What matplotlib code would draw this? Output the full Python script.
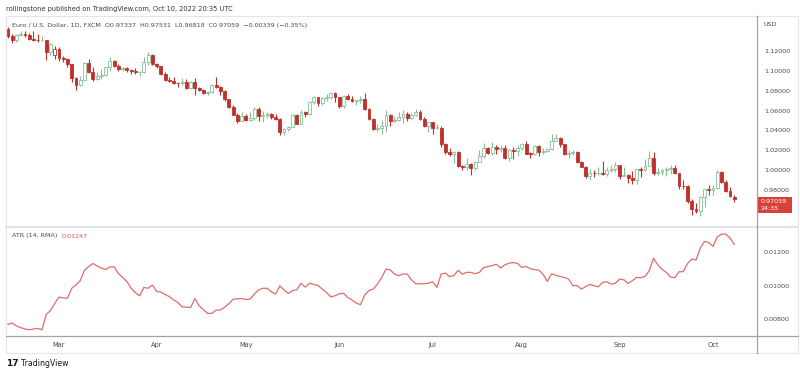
import matplotlib.pyplot as plt
import numpy as np
import pandas as pd
from matplotlib.lines import Line2D
from matplotlib.patches import Rectangle

# daily bars, EUR/USD (FXCM), Feb 11 -> Oct 10 2022
dates = pd.bdate_range("2022-02-11", "2022-10-10")

opens = [
    1.1424, 1.1349, 1.1307, 1.1359, 1.1371, 1.1361, 1.1322, 1.1309, 1.1307, 1.1308,
    1.1192, 1.1160, 1.1220, 1.1126, 1.1118, 1.1064, 1.0929, 1.0855, 1.0905, 1.1077,
    1.0988, 1.0913, 1.0942, 1.0956, 1.1034, 1.1094, 1.1050, 1.1016, 1.1031, 1.1005,
    1.0997, 1.0983, 1.0985, 1.1089, 1.1160, 1.1067, 1.1046, 1.0970, 1.0903, 1.0901,
    1.0879, 1.0876, 1.0886, 1.0829, 1.0890, 1.0825, 1.0810, 1.0780, 1.0788, 1.0852,
    1.0836, 1.0796, 1.0715, 1.0640, 1.0558, 1.0498, 1.0545, 1.0508, 1.0522, 1.0620,
    1.0540, 1.0550, 1.0560, 1.0530, 1.0515, 1.0380, 1.0410, 1.0436, 1.0551, 1.0465,
    1.0585, 1.0562, 1.0688, 1.0733, 1.0678, 1.0725, 1.0732, 1.0779, 1.0733, 1.0648,
    1.0749, 1.0719, 1.0695, 1.0703, 1.0716, 1.0615, 1.0519, 1.0411, 1.0420, 1.0446,
    1.0550, 1.0497, 1.0509, 1.0535, 1.0568, 1.0520, 1.0555, 1.0583, 1.0518, 1.0443,
    1.0484, 1.0426, 1.0426, 1.0265, 1.0182, 1.0161, 1.0185, 1.0039, 1.0037, 1.0062,
    1.0019, 1.0083, 1.0142, 1.0227, 1.0177, 1.0230, 1.0212, 1.0223, 1.0121, 1.0199,
    1.0195, 1.0225, 1.0260, 1.0166, 1.0165, 1.0245, 1.0181, 1.0196, 1.0212, 1.0298,
    1.0320, 1.0260, 1.0160, 1.0171, 1.0178, 1.0086, 1.0037, 0.9942, 0.9968, 0.9967,
    0.9974, 0.9965, 1.0002, 1.0016, 1.0054, 0.9946, 0.9955, 0.9926, 0.9904, 1.0012,
    1.0003, 1.0043, 1.0120, 0.9968, 0.9980, 0.9999, 1.0014, 1.0025, 0.9970, 0.9838,
    0.9837, 0.9690, 0.9608, 0.9592, 0.9735, 0.9815, 0.9801, 0.9825, 0.9986, 0.9884,
    0.9794, 0.97337,
]
highs = [
    1.1440, 1.1370, 1.1368, 1.1395, 1.1395, 1.1378, 1.1395, 1.1365, 1.1345, 1.1310,
    1.1275, 1.1245, 1.1235, 1.1150, 1.1125, 1.1070, 1.0935, 1.0950, 1.1090, 1.1120,
    1.1040, 1.0990, 1.1015, 1.1040, 1.1135, 1.1110, 1.1070, 1.1040, 1.1040, 1.1015,
    1.1030, 1.0995, 1.1137, 1.1185, 1.1170, 1.1075, 1.1050, 1.0990, 1.0940, 1.0935,
    1.0890, 1.0930, 1.0915, 1.0900, 1.0925, 1.0840, 1.0820, 1.0800, 1.0866, 1.0936,
    1.0850, 1.0810, 1.0720, 1.0660, 1.0570, 1.0590, 1.0560, 1.0580, 1.0640, 1.0640,
    1.0595, 1.0590, 1.0575, 1.0560, 1.0520, 1.0420, 1.0445, 1.0560, 1.0565, 1.0605,
    1.0595, 1.0695, 1.0748, 1.0740, 1.0735, 1.0765, 1.0785, 1.0788, 1.0740, 1.0755,
    1.0765, 1.0750, 1.0710, 1.0750, 1.0775, 1.0630, 1.0525, 1.0465, 1.0505, 1.0601,
    1.0560, 1.0545, 1.0580, 1.0605, 1.0580, 1.0570, 1.0615, 1.0605, 1.0530, 1.0485,
    1.0485, 1.0465, 1.0440, 1.0275, 1.0220, 1.0190, 1.0195, 1.0055, 1.0120, 1.0070,
    1.0090, 1.0200, 1.0270, 1.0230, 1.0280, 1.0255, 1.0258, 1.0250, 1.0210, 1.0235,
    1.0255, 1.0275, 1.0295, 1.0185, 1.0255, 1.0250, 1.0225, 1.0220, 1.0368, 1.0365,
    1.0330, 1.0265, 1.0200, 1.0200, 1.0190, 1.0095, 1.0040, 1.0015, 0.9998, 1.0030,
    1.0090, 1.0030, 1.0055, 1.0080, 1.0055, 1.0030, 0.9960, 0.9990, 1.0010, 1.0030,
    1.0110, 1.0198, 1.0185, 1.0020, 1.0015, 1.0035, 1.0050, 1.0050, 0.9975, 0.9905,
    0.9850, 0.9710, 0.9670, 0.9740, 0.9815, 0.9855, 0.9850, 0.9999, 0.9990, 0.9900,
    0.9835, 0.97531,
]
lows = [
    1.1330, 1.1280, 1.1290, 1.1345, 1.1340, 1.1310, 1.1300, 1.1288, 1.1300, 1.1106,
    1.1160, 1.1120, 1.1100, 1.1090, 1.1040, 1.0890, 1.0806, 1.0850, 1.0900, 1.0975,
    1.0900, 1.0910, 1.0920, 1.0950, 1.1000, 1.1040, 1.0995, 1.0995, 1.0985, 1.0965,
    1.0970, 1.0945, 1.0980, 1.1060, 1.1055, 1.1030, 1.0960, 1.0900, 1.0890, 1.0865,
    1.0835, 1.0860, 1.0820, 1.0815, 1.0758, 1.0800, 1.0770, 1.0760, 1.0780, 1.0830,
    1.0760, 1.0697, 1.0630, 1.0550, 1.0470, 1.0490, 1.0490, 1.0490, 1.0505, 1.0490,
    1.0485, 1.0520, 1.0510, 1.0500, 1.0350, 1.0350, 1.0390, 1.0430, 1.0460, 1.0460,
    1.0530, 1.0555, 1.0670, 1.0650, 1.0660, 1.0700, 1.0720, 1.0685, 1.0630, 1.0630,
    1.0710, 1.0685, 1.0655, 1.0675, 1.0610, 1.0505, 1.0400, 1.0398, 1.0360, 1.0380,
    1.0445, 1.0480, 1.0490, 1.0470, 1.0490, 1.0510, 1.0545, 1.0505, 1.0435, 1.0380,
    1.0365, 1.0410, 1.0235, 1.0160, 1.0145, 1.0070, 1.0030, 0.9999, 0.9998, 0.9952,
    1.0005, 1.0080, 1.0125, 1.0160, 1.0155, 1.0160, 1.0180, 1.0110, 1.0095, 1.0115,
    1.0145, 1.0200, 1.0160, 1.0125, 1.0150, 1.0140, 1.0160, 1.0180, 1.0200, 1.0290,
    1.0235, 1.0150, 1.0125, 1.0150, 1.0075, 1.0030, 0.9925, 0.9900, 0.9928, 0.9950,
    0.9950, 0.9940, 0.9985, 0.9985, 0.9910, 0.9940, 0.9875, 0.9865, 0.9865, 0.9930,
    0.9990, 1.0040, 0.9955, 0.9955, 0.9955, 0.9945, 0.9965, 0.9960, 0.9810, 0.9810,
    0.9670, 0.9550, 0.9570, 0.9536, 0.9635, 0.9750, 0.9755, 0.9810, 0.9875, 0.9780,
    0.9735, 0.96818,
]
closes = [
    1.1349, 1.1307, 1.1359, 1.1371, 1.1361, 1.1322, 1.1309, 1.1307, 1.1308, 1.1192,
    1.1269, 1.1220, 1.1126, 1.1118, 1.1064, 1.0929, 1.0855, 1.0905, 1.1077, 1.0988,
    1.0913, 1.0942, 1.0956, 1.1034, 1.1094, 1.1050, 1.1016, 1.1031, 1.1005, 1.0997,
    1.0983, 1.0985, 1.1089, 1.1160, 1.1067, 1.1046, 1.0970, 1.0903, 1.0901, 1.0879,
    1.0876, 1.0886, 1.0829, 1.0890, 1.0825, 1.0810, 1.0780, 1.0788, 1.0852, 1.0836,
    1.0796, 1.0715, 1.0640, 1.0558, 1.0498, 1.0545, 1.0508, 1.0522, 1.0620, 1.0540,
    1.0550, 1.0560, 1.0530, 1.0515, 1.0380, 1.0410, 1.0436, 1.0551, 1.0465, 1.0585,
    1.0562, 1.0688, 1.0733, 1.0678, 1.0725, 1.0732, 1.0779, 1.0733, 1.0648, 1.0749,
    1.0719, 1.0695, 1.0703, 1.0716, 1.0615, 1.0519, 1.0411, 1.0420, 1.0446, 1.0550,
    1.0497, 1.0509, 1.0535, 1.0568, 1.0520, 1.0555, 1.0583, 1.0518, 1.0443, 1.0484,
    1.0426, 1.0426, 1.0265, 1.0182, 1.0161, 1.0185, 1.0039, 1.0037, 1.0062, 1.0019,
    1.0083, 1.0142, 1.0227, 1.0177, 1.0230, 1.0212, 1.0223, 1.0121, 1.0199, 1.0195,
    1.0225, 1.0260, 1.0166, 1.0165, 1.0245, 1.0181, 1.0196, 1.0212, 1.0298, 1.0320,
    1.0260, 1.0160, 1.0171, 1.0178, 1.0086, 1.0037, 0.9942, 0.9968, 0.9967, 0.9974,
    0.9965, 1.0002, 1.0016, 1.0054, 0.9946, 0.9955, 0.9926, 0.9904, 1.0012, 1.0003,
    1.0043, 1.0120, 0.9968, 0.9980, 0.9999, 1.0014, 1.0025, 0.9970, 0.9838, 0.9837,
    0.9690, 0.9608, 0.9592, 0.9735, 0.9815, 0.9801, 0.9825, 0.9986, 0.9884, 0.9794,
    0.9738, 0.97059,
]

# ATR(14, RMA)
atr = [
    0.00770, 0.00777, 0.00760, 0.00750, 0.00742, 0.00737, 0.00742, 0.00745, 0.00737, 0.00828,
    0.00852, 0.00895, 0.00932, 0.00928, 0.00925, 0.00985, 0.01005, 0.01030, 0.01092, 0.01115,
    0.01133, 0.01118, 0.01105, 0.01097, 0.01112, 0.01113, 0.01073, 0.01050, 0.01025, 0.00985,
    0.00958, 0.00940, 0.00990, 0.00985, 0.01004, 0.00966, 0.00962, 0.00948, 0.00935, 0.00915,
    0.00900, 0.00875, 0.00872, 0.00870, 0.00924, 0.00880, 0.00858, 0.00835, 0.00835, 0.00855,
    0.00855, 0.00872, 0.00893, 0.00920, 0.00922, 0.00924, 0.00918, 0.00920, 0.00950, 0.00976,
    0.00985, 0.00985, 0.00965, 0.00950, 0.01000, 0.00975, 0.00954, 0.00972, 0.00976, 0.01014,
    0.00992, 0.01015, 0.01008, 0.01002, 0.00980, 0.00960, 0.00934, 0.00940, 0.00952, 0.00955,
    0.00930, 0.00915, 0.00897, 0.00887, 0.00945, 0.00972, 0.00980, 0.01010, 0.01050, 0.01100,
    0.01095, 0.01070, 0.01060, 0.01070, 0.01070, 0.01035, 0.01012, 0.01012, 0.01012, 0.01015,
    0.01024, 0.00990, 0.01070, 0.01076, 0.01054, 0.01062, 0.01092, 0.01070, 0.01080, 0.01080,
    0.01072, 0.01080, 0.01109, 0.01114, 0.01121, 0.01128, 0.01106, 0.01125, 0.01135, 0.01139,
    0.01133, 0.01109, 0.01115, 0.01102, 0.01096, 0.01094, 0.01068, 0.01026, 0.01072, 0.01062,
    0.01055, 0.01050, 0.01040, 0.01000, 0.01002, 0.00980, 0.00995, 0.01008, 0.01000, 0.00994,
    0.01020, 0.01024, 0.01010, 0.01014, 0.01040, 0.01036, 0.01014, 0.01030, 0.01050, 0.01048,
    0.01056, 0.01090, 0.01165, 0.01125, 0.01098, 0.01080, 0.01052, 0.01048, 0.01084, 0.01084,
    0.01133, 0.01160, 0.01153, 0.01225, 0.01265, 0.01258, 0.01235, 0.01292, 0.01308, 0.01309,
    0.01285, 0.01247,
]

month_labels = ["Mar", "Apr", "May", "Jun", "Jul", "Aug", "Sep", "Oct"]
price_ticks = [0.98, 1.00, 1.02, 1.04, 1.06, 1.08, 1.10, 1.12]
atr_ticks = [0.008, 0.010, 0.012]

RED = "#c0302c"
GREEN = "#86c096"
ATR_RED = "#e06c6c"
TXT = "#4a4a4a"

W, H = 800, 376
fig = plt.figure(figsize=(W / 100, H / 100), dpi=100)


def fx(px):
    return px / W


def fy(py):
    return 1 - py / H


ax = fig.add_axes([fx(6), fy(227), fx(757) - fx(6), fy(17) - fy(227)])
ax2 = fig.add_axes([fx(6), fy(335.5), fx(757) - fx(6), fy(228) - fy(335.5)], sharex=ax)

# --- candles ---
o, h, l, c = (np.array(v) for v in (opens, highs, lows, closes))
x = np.arange(len(c))
prev = np.r_[o[0], c[:-1]]
cols = np.where(c >= prev, GREEN, RED)
face = np.where(c < o, cols, "white")
ax.vlines(x, l, h, colors=cols, lw=0.8, zorder=1)
ax.bar(x, np.maximum(np.abs(c - o), 0.0004), 0.68, bottom=np.minimum(o, c),
       color=face, edgecolor=cols, lw=0.6, zorder=2)

ax.set_ylim(0.9429, 1.154)
ax.set_yticks(price_ticks)
ax.set_yticklabels([f"{v:.5f}" for v in price_ticks])
ax.set_xlim(-0.47, 176.36)

# --- ATR pane ---
ax2.plot(x, atr, color=ATR_RED, lw=0.9)
ax2.set_ylim(0.00703, 0.01345)
ax2.set_yticks(atr_ticks)
ax2.set_yticklabels([f"{v:.5f}" for v in atr_ticks])

# month ticks at first trading day of each month
months = dates.to_period("M")
first_idx = [i for i in range(1, len(dates)) if months[i] != months[i - 1]]
ax2.set_xticks(first_idx)
ax2.set_xticklabels(month_labels)

for a in (ax, ax2):
    for s in a.spines.values():
        s.set_visible(False)
    a.yaxis.tick_right()
    a.tick_params(axis="y", length=0, pad=5, labelsize=4.6, labelcolor=TXT)
    a.set_facecolor("white")
ax.tick_params(axis="x", length=0, labelbottom=False)
ax2.tick_params(axis="x", length=0, pad=5, labelsize=4.8, labelcolor=TXT)

# --- frame lines ---
def hline(py, x0, x1, color, lw):
    fig.add_artist(Line2D([fx(x0), fx(x1)], [fy(py), fy(py)], color=color, lw=lw,
                          transform=fig.transFigure))


def vline(px, y0, y1, color, lw):
    fig.add_artist(Line2D([fx(px), fx(px)], [fy(y0), fy(y1)], color=color, lw=lw,
                          transform=fig.transFigure))


fig.add_artist(Rectangle((fx(6), fy(352.5)), fx(798) - fx(6), fy(16) - fy(352.5),
                         transform=fig.transFigure, fill=False, ec="#e3e5ea", lw=0.8))
hline(227.5, 6, 798, "#e0e3eb", 1.4)
hline(335.5, 6, 798, "#a0a3aa", 0.9)
vline(757, 16, 352.5, "#a0a3aa", 0.9)

# --- texts ---
fig.text(fx(6), fy(9), "rollingstone published on TradingView.com, Oct 10, 2022 20:35 UTC",
         fontsize=4.8, color="#333333", va="center")
fig.text(fx(12), fy(25),
         "Euro / U.S. Dollar, 1D, FXCM  O0.97337  H0.97531  L0.96818  C0.97059  "
         "\u22120.00339 (\u22120.35%)",
         fontsize=4.6, color=TXT, va="center")
fig.text(fx(12), fy(236), "ATR (14, RMA)", fontsize=4.6, color=TXT, va="center")
fig.text(fx(62), fy(236), "0.01247", fontsize=4.6, color="#d9534f", va="center")
fig.text(fx(763), fy(25), "USD", fontsize=4.6, color=TXT, va="center")

# last price tag
fig.add_artist(Rectangle((fx(757), fy(213)), fx(792) - fx(757), fy(197) - fy(213),
                         transform=fig.transFigure, fc="#d9403a", ec="none"))
fig.text(fx(761), fy(201.5), "0.97059", fontsize=4.6, color="white", va="center")
fig.text(fx(761), fy(209), "24:35", fontsize=4.6, color="white", va="center")

# footer logo
fig.text(fx(6), fy(363), "17", fontsize=6.5, fontweight="bold", color="#131722", va="center")
fig.text(fx(21), fy(363), "TradingView", fontsize=5.6, color="#131722", va="center")

fig.savefig("out.png", dpi=100, facecolor="white")
